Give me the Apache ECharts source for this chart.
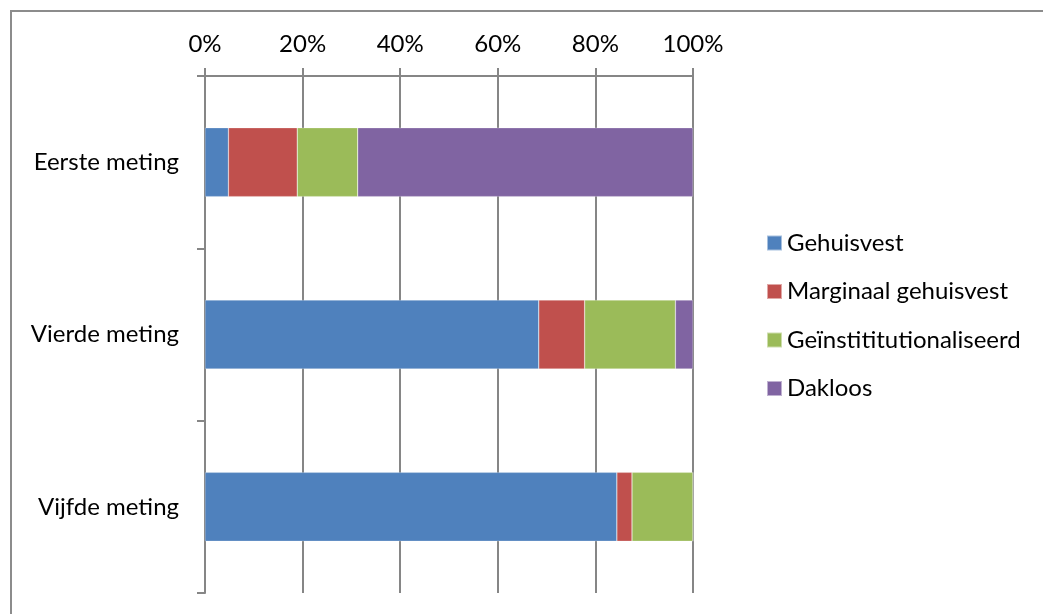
<!DOCTYPE html>
<html>
<head>
<meta charset="utf-8">
<script src="https://cdn.jsdelivr.net/npm/echarts@6/dist/echarts.min.js"></script>
<style>
  html, body { margin: 0; padding: 0; background: #fff; }
  #kader { position: absolute; left: 10px; top: 10px; width: 1100px; height: 700px;
           border-left: 2px solid #8c8c8c; border-top: 2px solid #8c8c8c; }
  #grafiek { position: absolute; left: 0; top: 0; width: 1043px; height: 614px; }
</style>
</head>
<body>
<div id="kader"></div>
<div id="grafiek"></div>
<script>
// Metingen (van boven naar onder)
const metingen = ["Eerste meting", "Vierde meting", "Vijfde meting"];

// Aandelen in procent per woonsituatie
const gehuisvest = [4.8, 68.4, 84.4];
const marginaal = [14.1, 9.4, 3.1];
const geinstitutionaliseerd = [12.4, 18.6, 12.5];
const dakloos = [68.7, 3.6, 0];

const asLabels = ["0%", "20%", "40%", "60%", "80%", "100%"];

const kleuren = ["#4F81BD", "#C0504D", "#9BBB59", "#8064A2"];
const lettertype = "Lato, 'Liberation Sans', sans-serif";

let chart = echarts.init(document.getElementById("grafiek"), null, { renderer: "canvas" });

function reeks(naam, data) {
  return {
    name: naam,
    type: "bar",
    stack: "totaal",
    barWidth: "40%",
    data: data,
    itemStyle: { borderColor: "rgba(255,255,255,0.5)", borderWidth: 0.5 },
  };
}

chart.setOption({
  animation: false,
  color: kleuren,
  grid: { left: 205, top: 76, right: 350, bottom: 21 },
  legend: {
    orient: "vertical",
    left: 761,
    top: 226,
    itemWidth: 15,
    itemHeight: 15,
    itemGap: 24.5,
    icon: "rect",
    textStyle: { fontSize: 24, lineHeight: 24, color: "#000", fontFamily: lettertype },
    data: ["Gehuisvest", "Marginaal gehuisvest", "Geïnstititutionaliseerd", "Dakloos"],
  },
  xAxis: {
    type: "value",
    position: "top",
    min: 0,
    max: 100,
    interval: 20,
    axisLine: { show: true, lineStyle: { color: "#868686", width: 2 } },
    axisTick: { show: true, length: 8, lineStyle: { color: "#868686", width: 2 } },
    splitLine: { show: true, lineStyle: { color: "#868686", width: 2 } },
    axisLabel: {
      formatter: (v) => asLabels[v / 20],
      fontSize: 24,
      color: "#000",
      fontFamily: lettertype,
      margin: 20,
    },
  },
  yAxis: {
    type: "category",
    inverse: true,
    data: metingen,
    axisLine: { show: true, lineStyle: { color: "#868686", width: 2 } },
    axisTick: { show: true, length: 8, lineStyle: { color: "#868686", width: 2 } },
    axisLabel: { fontSize: 24, color: "#000", fontFamily: lettertype, margin: 26 },
  },
  series: [
    reeks("Gehuisvest", gehuisvest),
    reeks("Marginaal gehuisvest", marginaal),
    reeks("Geïnstititutionaliseerd", geinstitutionaliseerd),
    reeks("Dakloos", dakloos),
  ],
});
</script>
</body>
</html>
